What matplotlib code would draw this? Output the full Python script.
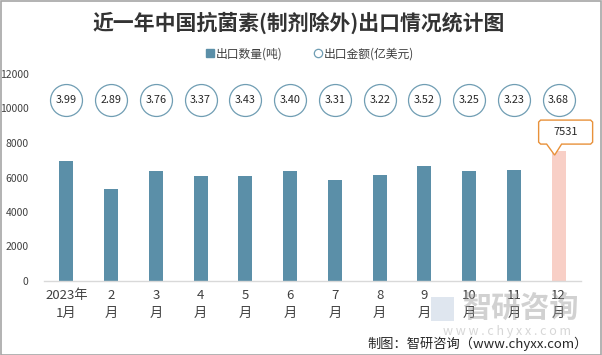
import matplotlib
matplotlib.use("Agg")
import matplotlib.pyplot as plt
import matplotlib.transforms as mtransforms
from matplotlib.patches import Rectangle, Polygon
from matplotlib.lines import Line2D
import numpy as np

plt.rcParams['font.family'] = ['Noto Sans CJK SC', 'DejaVu Sans']

# ---- data ----
categories = ["2023年\n1月", "2\n月", "3\n月", "4\n月", "5\n月", "6\n月",
              "7\n月", "8\n月", "9\n月", "10\n月", "11\n月", "12\n月"]
export_volume = [6930, 5350, 6400, 6110, 6100, 6400, 5870, 6160, 6690, 6400, 6450, 7531]
export_value = [3.99, 2.89, 3.76, 3.37, 3.43, 3.40, 3.31, 3.22, 3.52, 3.25, 3.23, 3.68]
yticks = [0, 2000, 4000, 6000, 8000, 10000, 12000]
title = "近一年中国抗菌素(制剂除外)出口情况统计图"
legend_labels = ["出口数量(吨)", "出口金额(亿美元)"]
source = "制图：智研咨询（www.chyxx.com）"

W, H = 602, 355
fig = plt.figure(figsize=(W / 100, H / 100), dpi=100)
fig.patch.set_facecolor("white")

# frame border
fig.add_artist(Rectangle((0.5 / W, 0.5 / H), 1 - 1.5 / W, 1 - 1.5 / H, transform=fig.transFigure,
                         fill=False, edgecolor="#A6A6A6", linewidth=1.2))

left, right, top, bottom = 44, 581, 74, 281
ax = fig.add_axes([left / W, 1 - bottom / H, (right - left) / W, (bottom - top) / H])

bar_color = "#5B8FA8"
hl_color = "#F8CFC6"
x = np.arange(len(categories))
colors = [bar_color] * (len(categories) - 1) + [hl_color]
ax.bar(x, export_volume, width=0.31, color=colors, zorder=2)

ax.set_xlim(-0.5, len(categories) - 0.5)
ax.set_ylim(0, 12000)
ax.set_yticks(yticks)
ax.set_yticklabels([str(v) for v in yticks], fontsize=7.5, color="#404040")
ax.set_xticks(x)
ax.set_xticklabels(categories, fontsize=9.5, color="#404040", linespacing=1.45)
ax.tick_params(axis='both', length=0)
ax.tick_params(axis='y', pad=11)
ax.tick_params(axis='x', pad=6)
for s in ["top", "right", "left"]:
    ax.spines[s].set_visible(False)
ax.spines["bottom"].set_color("#D9D9D9")
ax.spines["bottom"].set_linewidth(1.0)

# value circles (secondary series)
circ_y = (bottom - 100) / (bottom - top)
trans = ax.get_xaxis_transform()
ax.scatter(x, [circ_y] * len(x), s=23 ** 2, marker='o', facecolor="white",
           edgecolor="#6F9DB3", linewidth=0.9, transform=trans, zorder=3, clip_on=False)
for xi, v in zip(x, export_value):
    ax.text(xi, circ_y, f"{v:.2f}", transform=trans, ha="center", va="center",
            fontsize=7.8, color="#262626", zorder=4, clip_on=False)

# callout for the last bar
last = len(x) - 1
anchor = mtransforms.IdentityTransform() + mtransforms.ScaledTranslation(
    x[last], export_volume[last], ax.transData)
pts = [(-20, 9), (-20, 29), (-18, 31), (32, 31), (34, 29), (34, 9), (32, 7),
       (3, 7), (-4, -4), (-12, 7), (-18, 7)]
ax.add_artist(Polygon(pts, closed=True, transform=anchor, facecolor="white",
                      edgecolor="#E8913A", linewidth=1.0, zorder=5, clip_on=False))
ax.text(7, 19, str(export_volume[last]), transform=anchor, ha="center", va="center",
        fontsize=8, color="#262626", zorder=6, clip_on=False)

# title
fig.text(299 / W, 1 - 23 / H, title, ha="center", va="center", fontsize=15,
         fontweight="bold", color="#333333")

# legend
handles = [Line2D([], [], marker='s', linestyle='none', markersize=6, markerfacecolor=bar_color,
                  markeredgecolor=bar_color),
           Line2D([], [], marker='o', linestyle='none', markersize=6, markerfacecolor="white",
                  markeredgecolor="#6F9DB3", markeredgewidth=0.9)]
fig.legend(handles, legend_labels, loc="center", bbox_to_anchor=(310 / W, 1 - 54 / H), ncol=2,
           frameon=False, fontsize=8.5, handletextpad=0.1, columnspacing=2.6,
           labelcolor="#404040", handlelength=0.8)

# watermark
fig.add_artist(Rectangle((431 / W, 1 - 321 / H), 23 / W, 24 / H, transform=fig.transFigure,
                         facecolor="#B8C8DC", edgecolor="none", alpha=0.45))
fig.text(520 / W, 1 - 308 / H, "智研咨询", ha="center", va="center", fontsize=21,
         color="#9A9A9A", alpha=0.45, fontweight="bold")
fig.text(507 / W, 1 - 331 / H, "w w w . c h y x x . c o m", ha="center", va="center",
         fontsize=9, color="#9A9A9A", alpha=0.4)

# source
fig.text(588 / W, 1 - 344 / H, source, ha="right", va="center", fontsize=9.5, color="#262626")

fig.savefig("out.png", dpi=100, facecolor="white")
